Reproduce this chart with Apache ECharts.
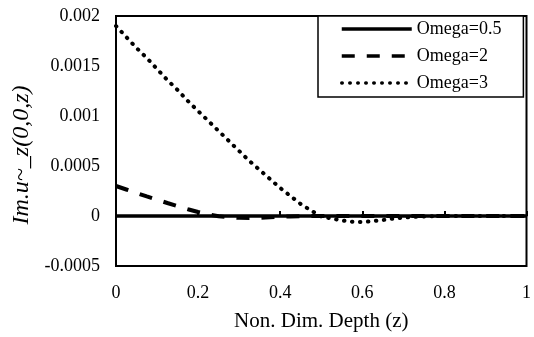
<!DOCTYPE html>
<html><head><meta charset="utf-8">
<script src="https://cdn.jsdelivr.net/npm/echarts@6/dist/echarts.min.js"></script>
<style>html,body{margin:0;padding:0;background:#fff}#c{width:534px;height:337px}</style>
</head><body><div id="c"></div>
<script>
const depthZ = [0,0.025,0.05,0.075,0.1,0.125,0.15,0.175,0.2,0.225,0.25,0.275,0.3,0.325,0.35,0.375,0.4,0.425,0.45,0.475,0.5,0.525,0.55,0.575,0.6,0.625,0.65,0.675,0.7,0.725,0.75,0.775,0.8,0.825,0.85,0.875,0.9,0.925,0.95,0.975,1];
const omega05 = [0,0,0,0,0,0,0,0,0,0,0,0,0,0,0,0,0,0,0,0,0,0,0,0,0,0,0,0,0,0,0,0,0,0,0,0,0,0,0,0,0];
const omega2 = [0.0003,0.000265,0.00023,0.000196,0.000163,0.00013,0.000098,0.000068,0.00004,0.000015,-0.000003,-0.000013,-0.000018,-0.00002,-0.000018,-0.000013,-0.000008,-0.000004,-0.000001,0,0,0,0,0,0,0,0,0,0,0,0,0,0,0,0,0,0,0,0,0,0];
const omega3 = [0.0019,0.00179,0.00168,0.00158,0.00147,0.00136,0.00126,0.00115,0.00105,0.00095,0.00085,0.00075,0.00065,0.00055,0.00046,0.00037,0.00028,0.0002,0.00012,0.000055,-0.000005,-0.000025,-0.000045,-0.000057,-0.00006,-0.000052,-0.00004,-0.000026,-0.000016,-0.000009,-0.000004,-0.000002,0,0,0,0,0,0,0,0,0];
const seriesNames = ['Omega=0.5','Omega=2','Omega=3'];
const xTicks = [0,0.2,0.4,0.6,0.8,1];
const yTicks = [-0.0005,0,0.0005,0.001,0.0015,0.002];
const xTitle = 'Non. Dim. Depth (z)';
const yTitle = 'Im.u~_z(0,0,z)';

const pairs = vals => depthZ.map((z,i)=>[z, vals[i]]);
const FONT = 'Liberation Serif';
const chart = echarts.init(document.getElementById('c'), null, {renderer:'canvas'});
chart.setOption({
  animation:false,
  backgroundColor:'#fff',
  grid:{left:116,right:6,top:16,bottom:66,show:true,borderColor:'#000',borderWidth:2,backgroundColor:'transparent'},
  xAxis:{type:'value',min:xTicks[0],max:xTicks[xTicks.length-1],interval:0.2,
    name:xTitle,nameLocation:'middle',nameGap:45,
    nameTextStyle:{fontFamily:FONT,fontSize:21,color:'#000'},
    axisLine:{lineStyle:{color:'#000',width:2}},
    axisTick:{show:true,inside:true,length:5,lineStyle:{color:'#000',width:2}},
    axisLabel:{fontFamily:FONT,fontSize:18,color:'#000',margin:18,formatter:v=>String(+v.toFixed(4))},
    splitLine:{show:false}},
  yAxis:{type:'value',min:yTicks[0],max:yTicks[yTicks.length-1],interval:0.0005,
    name:yTitle,nameLocation:'middle',nameGap:74,
    nameTextStyle:{fontFamily:FONT,fontSize:24,fontStyle:'italic',color:'#000',padding:[0,28,0,0]},
    axisLine:{show:true,lineStyle:{color:'#000',width:2}},
    axisTick:{show:false},
    axisLabel:{fontFamily:FONT,fontSize:18,color:'#000',margin:16,formatter:v=>String(+v.toFixed(5))},
    splitLine:{show:false}},
  legend:{orient:'vertical',left:318,top:16,padding:[4,22,5,22],itemWidth:70,itemHeight:14,itemGap:9,
    backgroundColor:'#fff',borderColor:'#000',borderWidth:1.5,
    itemStyle:{opacity:0},
    lineStyle:{width:3.5},
    textStyle:{fontFamily:FONT,fontSize:18,color:'#000',lineHeight:18},
    data:seriesNames},
  series:[
    {name:seriesNames[0],type:'line',data:pairs(omega05),symbol:'none',z:3,
      lineStyle:{color:'#000',width:3.5,type:'solid'},itemStyle:{color:'#000'}},
    {name:seriesNames[1],type:'line',data:pairs(omega2),symbol:'none',z:4,
      lineStyle:{color:'#000',width:4,type:[13,12]},itemStyle:{color:'#000'}},
    {name:seriesNames[2],type:'line',data:pairs(omega3),symbol:'none',z:5,
      lineStyle:{color:'#000',width:4,type:[0.5,7.5],cap:'round'},itemStyle:{color:'#000'}}
  ]
});
</script></body></html>
